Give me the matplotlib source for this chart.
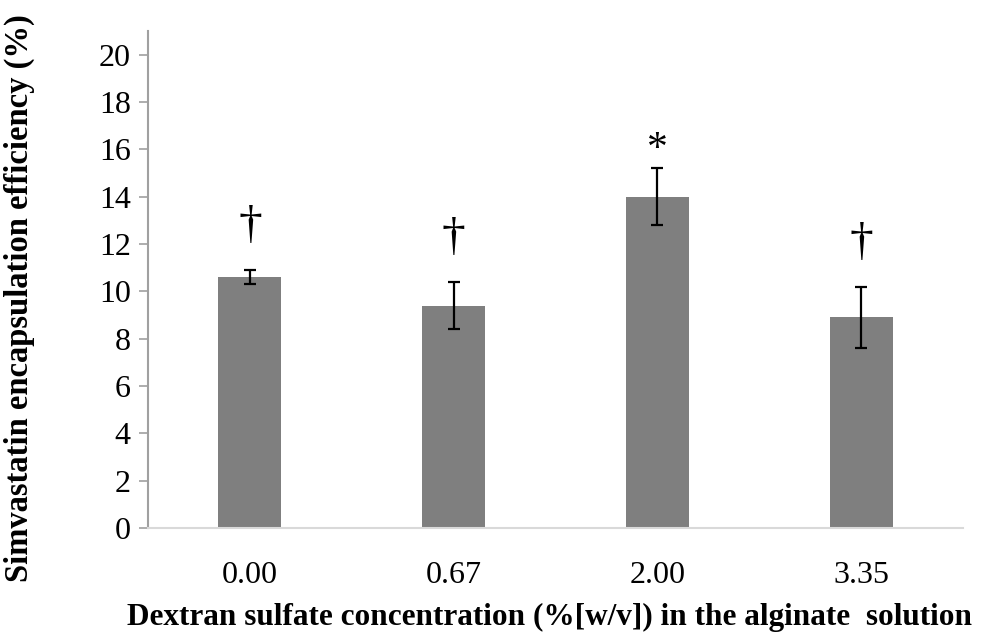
import numpy as np
import matplotlib as mpl
mpl.use('Agg')
import matplotlib.pyplot as plt

# data
concentrations = ['0.00', '0.67', '2.00', '3.35']
efficiency = [10.6, 9.4, 14.0, 8.9]
errors = [0.3, 1.0, 1.2, 1.3]
marks = ['\u2020', '\u2020', '*', '\u2020']

plt.rcParams['font.family'] = ['Liberation Serif', 'DejaVu Serif']

fig = plt.figure(figsize=(9.9, 6.44), dpi=100)
ax = fig.add_axes([0.1495, 0.1801, 0.8232, 0.7718])

x = np.arange(len(concentrations))
ax.bar(x, efficiency, width=0.31, color='#7f7f7f', zorder=2)
ax.errorbar(x, efficiency, yerr=errors, fmt='none', ecolor='black',
            elinewidth=1.6, capsize=4.5, capthick=1.6, zorder=3)

for xi, v, e, m in zip(x, efficiency, errors, marks):
    if m == '*':
        ax.text(xi, v + e + 0.35, m, ha='center', va='baseline', fontsize=30)
    else:
        ax.text(xi, v + e + 1.35, m, ha='center', va='baseline', fontsize=34)

ax.set_xlim(-0.5, len(concentrations) - 0.5)
ax.set_ylim(0, 21)
ax.set_yticks(np.arange(0, 21, 2))
ax.set_xticks(x)
ax.set_xticklabels(concentrations)

for s in ['top', 'right']:
    ax.spines[s].set_visible(False)
ax.spines['left'].set_color('#a0a0a0')
ax.spines['left'].set_linewidth(1.5)
ax.spines['bottom'].set_color('#d9d9d9')
ax.spines['bottom'].set_linewidth(1.5)
ax.tick_params(axis='y', direction='out', length=6.5, width=1.2,
               color='#a0a0a0', labelsize=23, pad=6)
ax.tick_params(axis='x', length=0, labelsize=23, pad=24)

fig.text(0.02, 0.5365, 'Simvastatin encapsulation efficiency (%)', rotation=90,
         ha='center', va='center', fontsize=23.5, fontweight='bold')
fig.text(0.555, 0.03, 'Dextran sulfate concentration (%[w/v]) in the alginate  solution',
         ha='center', va='baseline', fontsize=22.5, fontweight='bold')

plt.savefig('out.png', dpi=100)
plt.close('all')
